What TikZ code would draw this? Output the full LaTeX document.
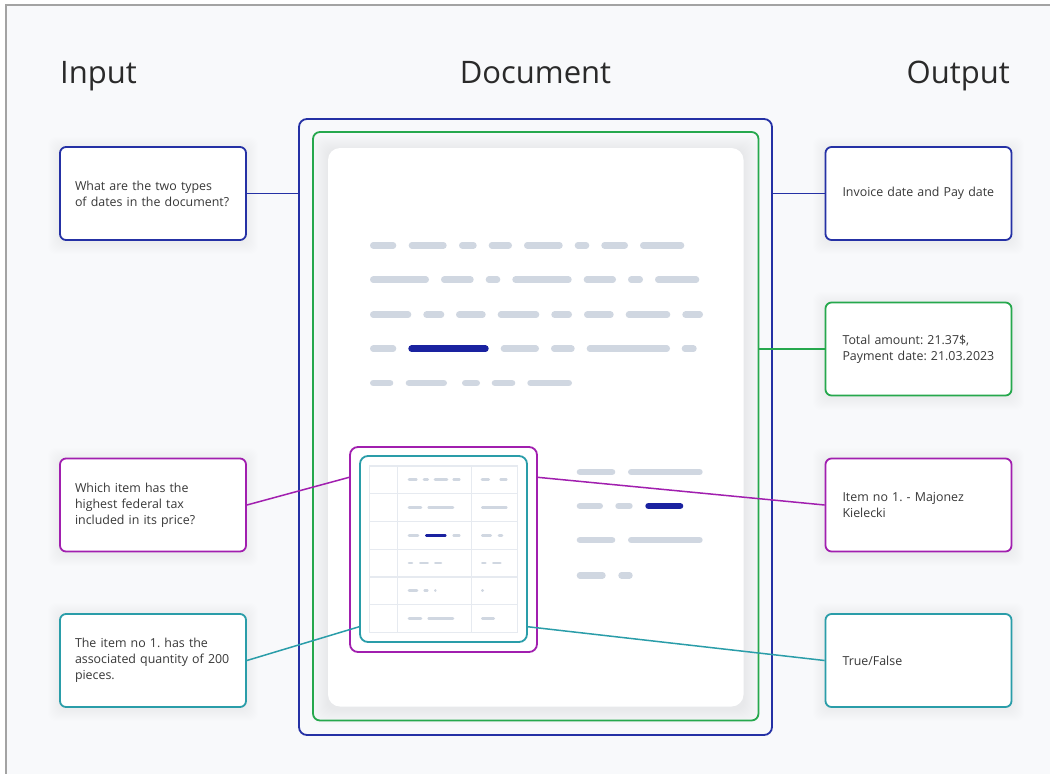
\documentclass[tikz,border=0pt]{standalone}
\usepackage{fontspec}
\setmainfont{Open Sans}
\frenchspacing
\usetikzlibrary{calc}
\definecolor{pagebg}{HTML}{F8F9FB}
\definecolor{framegray}{HTML}{A3A3A3}
\definecolor{cblue}{HTML}{2531A5}
\definecolor{cgreen}{HTML}{26A84D}
\definecolor{cpurple}{HTML}{A11FAF}
\definecolor{cteal}{HTML}{2A9DA9}
\definecolor{barc}{HTML}{D0D7E1}
\definecolor{barblue}{HTML}{1A22A0}
\definecolor{txt}{HTML}{383838}
\definecolor{headc}{HTML}{2A2A2A}
\definecolor{gridc}{HTML}{E6EAF0}
\definecolor{shadc}{HTML}{8E99AC}
\newcommand{\softglow}[6]{% x1 y1 x2 y2 steps opacity
  \foreach \i in {1,...,#5}{%
    \fill[shadc, opacity=#6, rounded corners=8pt] (#1-\i,#2-\i+2) rectangle (#3+\i,#4+\i+2);}}
\begin{document}
\begin{tikzpicture}[x=1pt,y=-1pt,
  box/.style={draw, line width=1.8pt, rounded corners=6pt, fill=white,
    minimum width=186pt, minimum height=93pt, inner ysep=0pt,
    font=\fontsize{12.4}{16}\selectfont, text=txt, align=left},
  inbox/.style={box, inner xsep=15pt, text width=156pt},
  outbox/.style={box, inner xsep=17pt, text width=152pt},
  frame/.style={draw, line width=1.8pt, inner sep=0pt},
  conn/.style={line width=1.5pt},
  bar/.style={line width=6.5pt, line cap=round, draw=barc},
  tbar/.style={line width=2.6pt, line cap=round, draw=barc},
  head/.style={font=\fontsize{31}{36}\selectfont, text=headc, inner sep=0pt}]

\useasboundingbox (0,0) rectangle (1050,774);
\fill[white] (0,0) rectangle (1050,774);
\fill[pagebg] (6,5) rectangle (1050,774);
\draw[framegray, line width=1.2pt] (6,774) -- (6,5) -- (1050,5);

% headings
\node[head, anchor=base west] (hin) at (60,83) {Input};
\node[head, anchor=base] (hdoc) at (535.5,83) {Document};
\node[head, anchor=base east] (hout) at (1010,83) {Output};

% shadows
\softglow{60}{147}{246}{240}{12}{0.007}
\softglow{60}{458}{246}{552}{12}{0.007}
\softglow{60}{613}{246}{707}{12}{0.007}
\softglow{825}{147}{1012}{240}{12}{0.007}
\softglow{825}{302}{1012}{396}{12}{0.007}
\softglow{825}{458}{1012}{552}{12}{0.007}
\softglow{825}{613}{1012}{707}{12}{0.007}
\softglow{328}{148}{743.5}{706.5}{16}{0.007}

% document frames
\node[frame, draw=cblue, rounded corners=8pt, minimum width=473pt, minimum height=616pt] (docblue) at (535.5,427) {};
\node[frame, draw=cgreen, rounded corners=7pt, minimum width=445.5pt, minimum height=588.5pt] (docgreen) at (535.75,426.25) {};
\node[fill=white, rounded corners=12pt, minimum width=415.5pt, minimum height=558.5pt, inner sep=0pt] (paper) at (535.75,427.25) {};

% text bars
\foreach \a/\b in {370/396.3, 408.7/446.7, 459/476.7, 488.7/512, 524/562.7, 574.7/589.3, 601.3/628, 640/684.3}
  \draw[bar] (\a+3.25,245.3) -- (\b-3.25,245.3);
\foreach \a/\b in {370/429, 441/473.7, 485.7/500.3, 512.3/571.7, 583.7/616, 628/643, 655/699.3}
  \draw[bar] (\a+3.25,279.7) -- (\b-3.25,279.7);
\foreach \a/\b in {370/411.3, 423.3/444.3, 456/485.7, 497.7/539.3, 551.3/572, 584/613.7, 625.7/670.3, 682.3/703}
  \draw[bar] (\a+3.25,314.7) -- (\b-3.25,314.7);
\foreach \a/\b in {370/396.3, 500.7/539, 551/574.7, 586.7/670, 681.7/696.7}
  \draw[bar] (\a+3.25,348.7) -- (\b-3.25,348.7);
\draw[bar, draw=barblue] (408.3+3.25,348.7) -- (488.7-3.25,348.7);
\foreach \a/\b in {370/393.3, 405.7/447, 462/480, 491.7/515.3, 527.3/572}
  \draw[bar] (\a+3.25,383) -- (\b-3.25,383);

% right-bottom bars
\foreach \a/\b/\y in {576.7/615.3/472, 628/702.7/472, 576.7/603/506, 615.3/632.7/506, 576.7/615.3/540, 628/702.7/540, 576.7/605.7/575.3, 618.3/632.7/575.3}
  \draw[bar] (\a+3.25,\y) -- (\b-3.25,\y);
\draw[bar, draw=barblue] (645.3+3.25,506) -- (683.3-3.25,506);

% table frames
\node[frame, draw=cpurple, fill=white, rounded corners=8pt, minimum width=187pt, minimum height=205pt] (purp) at (443.5,549.5) {};
\node[frame, draw=cteal, fill=white, rounded corners=8pt, minimum width=167pt, minimum height=186pt] (tealf) at (443.5,549) {};

% table
\draw[gridc, line width=1.5pt] (369.3,466) rectangle (517.7,632.7);
\foreach \x in {397.7, 471.3} \draw[gridc, line width=1.5pt] (\x,466) -- (\x,632.7);
\foreach \y in {493.3, 521.3, 549.3, 577, 604.7} \draw[gridc, line width=1.5pt] (369.3,\y) -- (517.7,\y);
\foreach \a/\b/\y in {407.7/417.7/479.3, 422.7/429/479.3, 433.7/448.3/479.3, 452.3/460.7/479.3, 480.7/490/479.3, 499.3/507.7/479.3,
  407.7/422.3/507.3, 427.3/454.3/507.3, 481/507.7/507.3,
  407.7/419.3/535.3, 452.3/460.7/535.3, 481/492/535.3, 497.7/503.3/535.3,
  407.7/413.3/563, 419/429/563, 434/442.3/563, 481/486.7/563, 492/501.7/563,
  407.7/418.3/590.7, 423.3/428.7/590.7, 434/436.7/590.7, 481/484/590.7,
  407.7/422.3/618.3, 427.3/454.3/618.3, 481/495/618.3}
  \draw[tbar] (\a+1.3,\y) -- (\b-1.3,\y);
\draw[tbar, draw=barblue] (425+1.3,535.3) -- (446.7-1.3,535.3);

% boxes
\node[inbox, draw=cblue] (in1) at (153,193.5) {What are the two types\\of dates in the document?};
\node[inbox, draw=cpurple] (in2) at (153,505) {Which item has the\\highest federal tax\\included in its price?};
\node[inbox, draw=cteal] (in3) at (153,660.5) {The item no 1. has the\\\mbox{associated quantity of 200}\\pieces.};
\node[outbox, draw=cblue] (out1) at (918.5,193.5) {\mbox{Invoice date and Pay date}};
\node[outbox, draw=cgreen] (out2) at (918.5,349) {\mbox{Total amount: 21.37\$,}\\\mbox{Payment date: 21.03.2023}};
\node[outbox, draw=cpurple] (out3) at (918.5,505) {Item no 1. - Majonez\\Kielecki};
\node[outbox, draw=cteal] (out4) at (918.5,660.5) {True/False};

% connectors
\draw[conn, cblue] (in1.east) -- (in1.east -| docblue.west);
\draw[conn, cblue] (docblue.east |- out1.west) -- (out1.west);
\draw[conn, cgreen] (docgreen.east |- out2.west) -- (out2.west);
\draw[conn, cpurple] (in2.east) -- ($(purp.north west)!0.151!(purp.south west)$);
\draw[conn, cpurple] ($(purp.north east)!0.151!(purp.south east)$) -- (out3.west);
\draw[conn, cteal] (in3.east) -- ($(tealf.north west)!0.914!(tealf.south west)$);
\draw[conn, cteal] ($(tealf.north east)!0.914!(tealf.south east)$) -- (out4.west);
\end{tikzpicture}
\end{document}
